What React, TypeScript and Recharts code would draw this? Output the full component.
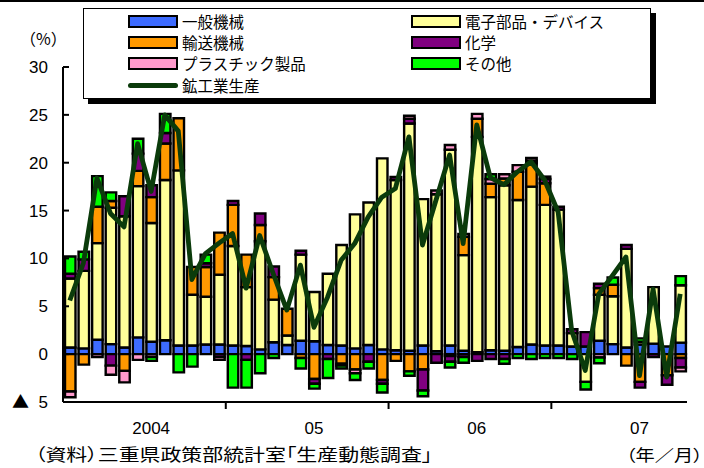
import { Bar, ComposedChart, Line, XAxis, YAxis } from "recharts";

// 2004年1月〜2007年10月（月次）
const months = [
  "2004/01", "2004/02", "2004/03", "2004/04", "2004/05", "2004/06", "2004/07", "2004/08", "2004/09", "2004/10", "2004/11", "2004/12",
  "2005/01", "2005/02", "2005/03", "2005/04", "2005/05", "2005/06", "2005/07", "2005/08", "2005/09", "2005/10", "2005/11", "2005/12",
  "2006/01", "2006/02", "2006/03", "2006/04", "2006/05", "2006/06", "2006/07", "2006/08", "2006/09", "2006/10", "2006/11", "2006/12",
  "2007/01", "2007/02", "2007/03", "2007/04", "2007/05", "2007/06", "2007/07", "2007/08", "2007/09", "2007/10",
];

const yearStarts = ["2004/01", "2005/01", "2006/01", "2007/01"];
const yearLabels: Record<string, string> = { "2004/07": "2004", "2005/07": "05", "2006/07": "06", "2007/07": "07" };
const yTicks = [-5, 0, 5, 10, 15, 20, 25, 30];

// 寄与度（%ポイント）
const generalMachinery = [
  0.7, 0.6, 1.5, 1.05, 0.7, 1.75, 1.3, 1.45, 0.9, 0.9, 1.0, 1.0,
  0.9, 0.85, 0.5, 1.25, 0.95, 1.4, 1.35, 0.95, 0.9, 0.6, 0.95, 0.5,
  0.4, 0.35, 0.9, 0.3, 0.9, 0.35, 0.2, 0.4, 0.35, 0.75, 1.0, 0.9,
  0.9, 0.8, 0.8, 1.4, 1.05, 0.7, 1.0, 1.1, 0.8, 1.2,
];
const electronics = [
  7.2, 8.1, 10.1, 14.25, 13.7, 15.8, 12.4, 16.75, 18.3, 5.3, 5.0, 7.3,
  10.4, 6.15, 11.3, 4.45, 1.0, 9.0, 5.15, 7.45, 10.5, 14.0, 14.9, 19.95,
  17.8, 23.75, 15.3, 16.4, 20.45, 10.0, 22.5, 16.0, 17.3, 15.35, 16.5, 14.7,
  14.2, 1.4, -2.9, 4.8, 5.0, 10.3, 0.3, 5.9, 0, 6.0,
];
const transport = [
  -3.9, -1.1, 3.8, 0.7, -1.75, 1.6, 2.7, 3.8, 5.45, 2.9, 3.1, 4.4,
  4.3, 3.4, 1.7, 2.35, 2.8, -0.4, -2.6, 0, -1.0, -1.6, 0, -2.7,
  -0.7, -1.8, -1.6, 0, -0.2, 1.9, 1.9, 1.4, 0.7, 2.95, 2.45, 2.25,
  0, 0, 0, 0.7, 1.2, -1.2, -2.9, 0, -2.2, -0.4,
];
const chemicals = [
  0.5, 1.2, 0, -1.2, 2.1, 1.8, 1.25, 1.1, 0, 0, 0.4, -0.3,
  0.4, -0.6, 1.2, 1.1, 0, 0.4, -0.5, -0.5, -0.2, 0, -0.8, -0.4,
  0.3, 0.5, -2.2, -0.9, -0.6, -0.3, -0.7, -0.5, -0.5, 0, 0.25, 0.45,
  0.3, 0.4, 1.5, 0.45, 0, 0.4, -0.6, -0.3, -1.0, -1.0,
];
const plastics = [
  -0.6, 0, -0.3, -0.95, -1.2, -0.6, -0.3, 0, 0, 0, 0, -0.3,
  0, 0, 0, 0, 0, 0, 0, 0, 0, -0.4, 0, 0,
  0, 0.3, 0, 0.4, 0.5, 0.3, 0.5, 0.5, 0.45, 0.7, 0.3, 0.25,
  0, 0, 0, -0.35, 0, 0, 0, 0, 0, -0.4,
];
const others = [
  1.8, 0.8, 3.2, 0.9, 0, 1.55, -0.4, 2.0, -1.9, -1.3, 0.9, 0,
  -3.5, -2.9, -2.0, -0.4, 0, -1.1, -0.5, -2.0, -0.3, -0.7, -0.7, -0.9,
  0, -0.45, -0.6, 0, -0.6, -0.6, 0, 0.5, -0.5, -0.4, -0.5, -0.4,
  -0.4, -0.5, -0.8, -0.6, 0.75, 0, 0.35, 0, 0, 0.95,
];
// 鉱工業生産（前年同月比）
const mining = [
  5.6, 9.5, 18.4, 14.7, 13.3, 22.0, 17.0, 25.0, 23.3, 7.8, 10.5, 11.6,
  12.6, 6.9, 12.4, 8.4, 4.6, 9.3, 2.8, 5.95, 9.8, 11.55, 14.35, 16.4,
  17.3, 22.7, 11.4, 16.1, 20.8, 11.55, 23.95, 18.45, 17.7, 19.05, 20.1, 18.2,
  14.85, 2.45, -1.7, 6.3, 8.2, 10.15, -2.25, 6.8, -2.4, 6.3,
];

const series = [
  { key: "machinery", name: "一般機械", color: "#3D6BFF", values: generalMachinery },
  { key: "electronics", name: "電子部品・デバイス", color: "#FFFF99", values: electronics },
  { key: "transport", name: "輸送機械", color: "#FF9900", values: transport },
  { key: "chemicals", name: "化学", color: "#800080", values: chemicals },
  { key: "plastics", name: "プラスチック製品", color: "#FF99CC", values: plastics },
  { key: "others", name: "その他", color: "#00FF00", values: others },
];
const lineColor = "#0B3B0B";

const data = months.map((month, i) => {
  const row: Record<string, string | number> = { month, mining: mining[i] };
  series.forEach((s) => {
    row[s.key] = s.values[i];
  });
  return row;
});

const numFont = "'Liberation Sans', Arial, sans-serif";
const jpFont = "'Noto Sans CJK JP', sans-serif";

function MonthTick({ x, y, width, payload }: any) {
  const band = width / months.length;
  const label = yearLabels[payload.value];
  const start = x - band / 2;
  return (
    <g>
      {yearStarts.includes(payload.value) && start > 70 && (
        <line x1={start} x2={start} y1={y} y2={y + 7} stroke="#000" strokeWidth={2} />
      )}
      {label && (
        <text x={x} y={y + 32} textAnchor="middle" fontFamily={numFont} fontSize={17} fill="#000">
          {label}
        </text>
      )}
    </g>
  );
}

function ValueTick({ x, y, payload }: any) {
  const v = payload.value as number;
  return (
    <g>
      <line x1={x} x2={x + 6} y1={y} y2={y} stroke="#000" strokeWidth={2} />
      {v < 0 ? (
        <text y={y + 6} fontSize={17} fill="#000">
          <tspan x={12} fontFamily={jpFont}>▲</tspan>
          <tspan x={x - 15} textAnchor="end" fontFamily={numFont}>{-v}</tspan>
        </text>
      ) : (
        <text x={x - 15} y={y + 6} textAnchor="end" fontFamily={numFont} fontSize={17} fill="#000">
          {v}
        </text>
      )}
    </g>
  );
}

function LegendBox() {
  const cols = [44, 327];
  const rows = [12, 33, 54, 76];
  const items = [
    ...series.map((s) => ({ name: s.name, color: s.color, line: false })),
    { name: "鉱工業生産", color: lineColor, line: true },
  ];
  return (
    <div
      style={{
        position: "absolute",
        left: 83,
        top: 8,
        width: 566,
        height: 89,
        border: "1.5px solid #000",
        boxShadow: "5px 5px 0 #000",
        background: "#fff",
      }}
    >
      {items.map((item, i) => {
        const left = cols[i % 2];
        const top = rows[Math.floor(i / 2)];
        return (
          <div key={item.name} style={{ position: "absolute", left, top: top - 10, height: 20, display: "flex", alignItems: "center" }}>
            {item.line ? (
              <div style={{ width: 50, height: 5, borderRadius: 3, background: item.color }} />
            ) : (
              <div style={{ width: 46, height: 9, border: "2px solid #000", background: item.color }} />
            )}
            <span
              style={{
                marginLeft: 4,
                fontFamily: jpFont,
                fontSize: 15.5,
                lineHeight: "20px",
                color: "#000",
                whiteSpace: "nowrap",
              }}
            >
              {item.name}
            </span>
          </div>
        );
      })}
    </div>
  );
}

const noteStyle = {
  position: "absolute" as const,
  top: 444,
  fontFamily: jpFont,
  fontSize: 17,
  lineHeight: "20px",
  color: "#000",
  whiteSpace: "nowrap" as const,
  fontFeatureSettings: "'palt' 1",
  transform: "scaleX(1.23)",
  transformOrigin: "left center",
};

export default function App() {
  return (
    <div style={{ position: "absolute", left: 0, top: 0, width: 704, height: 468, background: "#fff", overflow: "hidden" }}>
      <div style={{ position: "absolute", left: 0, top: 0, width: 704, height: 2, background: "#000" }} />
      <div style={{ position: "absolute", left: 20, top: 26, fontFamily: jpFont, fontSize: 16, color: "#000" }}>（%）</div>
      <ComposedChart
        width={704}
        height={468}
        data={data}
        stackOffset="sign"
        barSize={10.5}
        margin={{ top: 67, right: 17, bottom: 26, left: 0 }}
      >
        <XAxis
          dataKey="month"
          interval={0}
          height={40}
          tickSize={0}
          tickMargin={0}
          tickLine={false}
          axisLine={{ stroke: "#000", strokeWidth: 2 }}
          tick={<MonthTick />}
        />
        <YAxis
          domain={[-5, 30]}
          ticks={yTicks}
          width={63}
          tickSize={0}
          tickMargin={0}
          tickLine={false}
          allowDataOverflow
          axisLine={{ stroke: "#000", strokeWidth: 2 }}
          tick={<ValueTick />}
        />
        {series.map((s) => (
          <Bar
            key={s.key}
            dataKey={s.key}
            name={s.name}
            stackId="contrib"
            fill={s.color}
            stroke="#000"
            strokeWidth={2.4}
            isAnimationActive={false}
          />
        ))}
        <Line
          dataKey="mining"
          name="鉱工業生産"
          type="linear"
          stroke={lineColor}
          strokeWidth={4.8}
          strokeLinejoin="round"
          dot={false}
          activeDot={false}
          isAnimationActive={false}
        />
      </ComposedChart>
      <LegendBox />
      <div style={{ ...noteStyle, left: 35 }}>（資料）三重県政策部統計室「生産動態調査」</div>
      <div style={{ ...noteStyle, left: 626, fontSize: 16, transform: "scaleX(1.2)" }}>（年／月）</div>
    </div>
  );
}
